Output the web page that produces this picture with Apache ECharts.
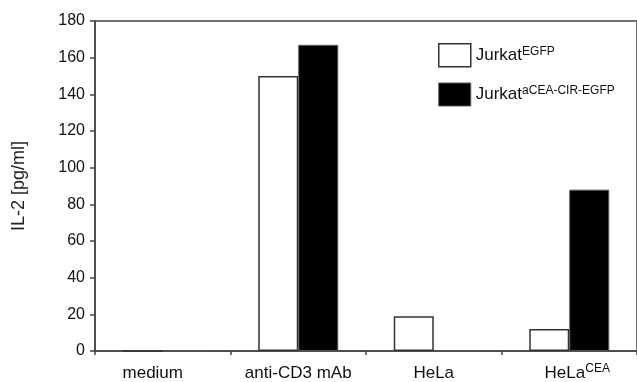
<!DOCTYPE html>
<html>
<head>
<meta charset="utf-8">
<script src="https://cdn.jsdelivr.net/npm/echarts@6/dist/echarts.min.js"></script>
<style>html,body{margin:0;padding:0;background:#fff}#c{width:637px;height:382px}</style>
</head>
<body>
<div id="c"></div>
<script>
var categoryMain = ['medium', 'anti-CD3 mAb', 'HeLa', 'HeLa'];
var categorySup = ['', '', '', 'CEA'];
var seriesNames = ['Jurkat', 'Jurkat'];
var seriesSups = ['EGFP', 'aCEA-CIR-EGFP'];
var jurkatEGFP = [0, 150, 19, 12];
var jurkatCIR = [0, 167, 0, 88];
var yTicks = [0, 20, 40, 60, 80, 100, 120, 140, 160, 180];

var FONT = 'Liberation Sans, Arial, sans-serif';
var chart = echarts.init(document.getElementById('c'), null, {renderer: 'canvas'});
var legendNames = [seriesNames[0] + ' ' + seriesSups[0], seriesNames[1] + ' ' + seriesSups[1]];
var supMap = {};
supMap[legendNames[0]] = [seriesNames[0], seriesSups[0]];
supMap[legendNames[1]] = [seriesNames[1], seriesSups[1]];

var catData = categoryMain.map(function (m, i) {
  var item = {value: m + (categorySup[i] ? ' ' + categorySup[i] : '')};
  if (i === 0) item.textStyle = {padding: [0, 20, 0, 0]};
  if (i === 3) item.textStyle = {padding: [0, 0, 0, 16]};
  return item;
});

chart.setOption({
  animation: false,
  backgroundColor: '#fff',
  textStyle: {fontFamily: FONT},
  grid: {left: 95, top: 21, width: 544, height: 330, show: true, borderColor: '#444', borderWidth: 1.5, backgroundColor: 'transparent'},
  legend: {
    orient: 'vertical', left: 433, top: 38, itemWidth: 32, itemHeight: 23, itemGap: 15,
    icon: 'rect',
    data: [
      {name: legendNames[0], itemStyle: {color: '#fff', borderColor: '#333', borderWidth: 1.5}},
      {name: legendNames[1], itemStyle: {color: '#000', borderColor: '#555', borderWidth: 1}}
    ],
    formatter: function (n) { return '{n|' + supMap[n][0] + '}{s|' + supMap[n][1] + '}'; },
    textStyle: {
      color: '#111', fontFamily: FONT,
      rich: {
        n: {fontSize: 17, fontFamily: FONT, color: '#111', lineHeight: 20},
        s: {fontSize: 12, fontFamily: FONT, color: '#111', verticalAlign: 'top'}
      }
    }
  },
  xAxis: {
    type: 'category', data: catData, boundaryGap: true,
    axisLine: {lineStyle: {color: '#444', width: 1.5}},
    axisTick: {show: true, length: 4, alignWithLabel: false, lineStyle: {color: '#444', width: 1.5}},
    axisLabel: {
      margin: 12, interval: 0, color: '#111', fontFamily: FONT,
      formatter: function (v) {
        var parts = v.split(' ');
        if (v.indexOf('CEA') > 0 && parts.length === 2) return '{n|' + parts[0] + '}{s|' + parts[1] + '}';
        return '{n|' + v + '}';
      },
      rich: {
        n: {fontSize: 17, fontFamily: FONT, color: '#111', lineHeight: 20},
        s: {fontSize: 12, fontFamily: FONT, color: '#111', verticalAlign: 'top'}
      }
    },
    splitLine: {show: false}
  },
  yAxis: {
    type: 'value', min: yTicks[0], max: yTicks[yTicks.length - 1], interval: 20,
    name: 'IL-2 [pg/ml]', nameLocation: 'middle', nameGap: 67,
    nameTextStyle: {fontSize: 18, color: '#222', fontFamily: FONT},
    axisLine: {show: true, lineStyle: {color: '#444', width: 1.5}},
    axisTick: {show: true, length: 5, inside: false, lineStyle: {color: '#444', width: 1.5}},
    axisLabel: {fontSize: 16, color: '#111', margin: 10, fontFamily: FONT},
    splitLine: {show: false}
  },
  series: [
    {name: legendNames[0], type: 'bar', data: jurkatEGFP, barWidth: 40, barGap: '0%',
     itemStyle: {color: '#fff', borderColor: '#333', borderWidth: 1.5}},
    {name: legendNames[1], type: 'bar', data: jurkatCIR, barWidth: 40, barGap: '0%',
     itemStyle: {color: '#000', borderColor: '#555', borderWidth: 1}}
  ]
});
</script>
</body>
</html>
